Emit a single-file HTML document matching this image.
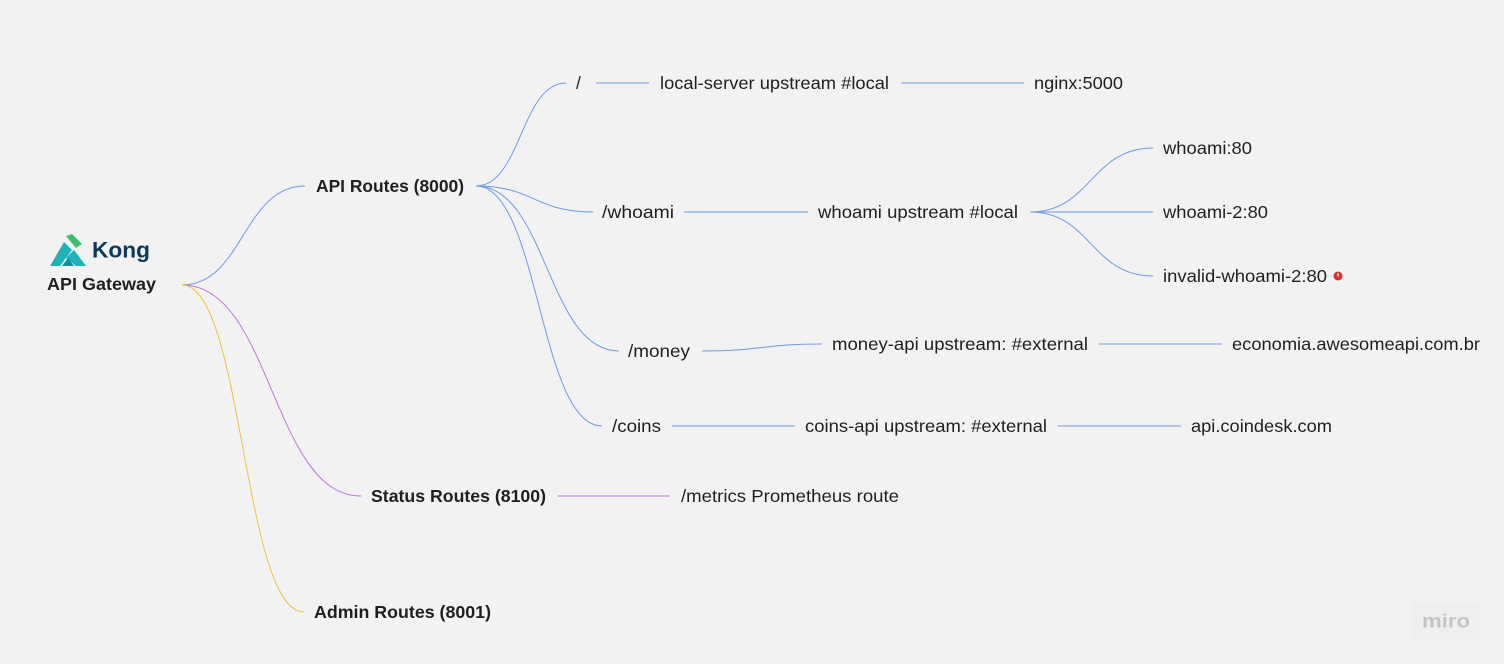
<!DOCTYPE html>
<html><head><meta charset="utf-8"><style>
html,body{margin:0;padding:0;background:#f2f2f2;}
svg{display:block}
text{font-family:"Liberation Sans",sans-serif;font-size:17.5px;fill:#1f1f1f;dominant-baseline:central}
.b{font-weight:bold}
</style></head><body>
<svg width="1504" height="664" viewBox="0 0 1504 664" xmlns="http://www.w3.org/2000/svg">
<rect width="1504" height="664" fill="#f2f2f2"/>
<g fill="none" stroke-width="1">
<g stroke="#6f9be6">
<path d="M182 285 C243 285 243 186 305 186"/>
<path d="M476 186 C521 186 521 83 566 83"/>
<path d="M476 186 C534 186 534 212 593 212"/>
<path d="M476 186 C547 186 547 351 619 351"/>
<path d="M476 186 C539 186 539 426 602 426"/>
<path d="M596 83 H649"/><path d="M901 83 H1024"/>
<path d="M684 212 H808"/>
<path d="M1030 212 C1091 212 1091 148 1153 148"/>
<path d="M1030 212 H1153"/>
<path d="M1030 212 C1091 212 1091 276 1153 276"/>
<path d="M702 351 C762 351 762 344 822 344"/>
<path d="M1099 344 H1222"/>
<path d="M672 426 H795"/><path d="M1058 426 H1181"/>
</g>
<path stroke="#c070e0" d="M182 285 C272 285 272 496 361 496"/>
<path stroke="#c070e0" d="M558 496 H670"/>
<path stroke="#f0c040" d="M182 285 C243 285 243 612 304 612"/>
</g>
<g>
<polygon points="66,236 72,234 82,244 76,248" fill="#3dbd6e"/>
<polygon points="50,266 64,242 72,250 60,266" fill="#1fb3b8"/>
<polygon points="66,258 74,250 86,266 76,266" fill="#1fb3b8"/>
<polygon points="62,266 68,258 74,266" fill="#0f8fa0"/>
<text x="92" y="250" class="b" fill="#0b3a5a" style="fill:#0b3a5a;font-size:22px" textLength="58" lengthAdjust="spacingAndGlyphs">Kong</text>
</g>
<text x="47" y="284" class="b" textLength="109" lengthAdjust="spacingAndGlyphs">API Gateway</text>
<text x="316" y="186" class="b" textLength="148" lengthAdjust="spacingAndGlyphs">API Routes (8000)</text>
<text x="576" y="83">/</text>
<text x="660" y="83" textLength="229" lengthAdjust="spacingAndGlyphs">local-server upstream #local</text>
<text x="1034" y="83" textLength="89" lengthAdjust="spacingAndGlyphs">nginx:5000</text>
<text x="602" y="212" textLength="72" lengthAdjust="spacingAndGlyphs">/whoami</text>
<text x="818" y="212" textLength="200" lengthAdjust="spacingAndGlyphs">whoami upstream #local</text>
<text x="1163" y="148" textLength="89" lengthAdjust="spacingAndGlyphs">whoami:80</text>
<text x="1163" y="212" textLength="105" lengthAdjust="spacingAndGlyphs">whoami-2:80</text>
<text x="1163" y="276" textLength="164" lengthAdjust="spacingAndGlyphs">invalid-whoami-2:80</text>
<circle cx="1338" cy="276" r="4.5" fill="#d93030"/>
<rect x="1337.4" y="273" width="1.2" height="3.5" fill="#fff"/>
<text x="628" y="351" textLength="62" lengthAdjust="spacingAndGlyphs">/money</text>
<text x="832" y="344" textLength="256" lengthAdjust="spacingAndGlyphs">money-api upstream: #external</text>
<text x="1232" y="344" textLength="248" lengthAdjust="spacingAndGlyphs">economia.awesomeapi.com.br</text>
<text x="612" y="426" textLength="49" lengthAdjust="spacingAndGlyphs">/coins</text>
<text x="805" y="426" textLength="242" lengthAdjust="spacingAndGlyphs">coins-api upstream: #external</text>
<text x="1191" y="426" textLength="141" lengthAdjust="spacingAndGlyphs">api.coindesk.com</text>
<text x="371" y="496" class="b" textLength="175" lengthAdjust="spacingAndGlyphs">Status Routes (8100)</text>
<text x="681" y="496" textLength="218" lengthAdjust="spacingAndGlyphs">/metrics Prometheus route</text>
<text x="314" y="612" class="b" textLength="177" lengthAdjust="spacingAndGlyphs">Admin Routes (8001)</text>
<rect x="1411" y="602" width="70" height="38" fill="#efefef"/>
<text x="1422" y="622" style="fill:#c4c4c8;font-size:19px;font-weight:bold" textLength="48" lengthAdjust="spacingAndGlyphs">miro</text>
</svg>
</body></html>
